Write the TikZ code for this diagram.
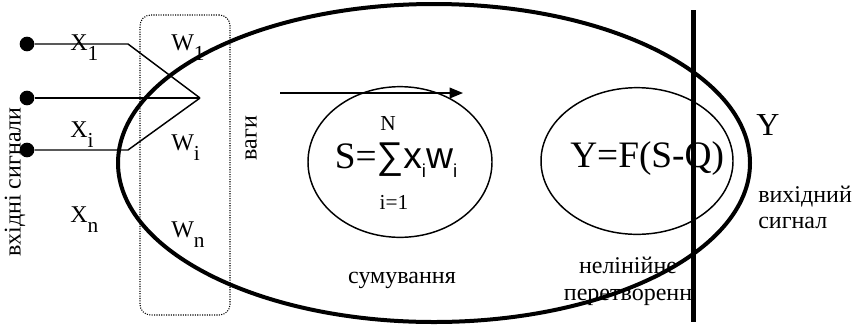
\documentclass[tikz,border=0pt]{standalone}
\usepackage{fontspec}
\setmainfont{Liberation Serif}
\newfontfamily\sansfnt{Liberation Sans}
\usetikzlibrary{shapes.geometric, arrows.meta, positioning}

% lowered index, as in the picture
\newcommand{\lowsub}[1]{\raisebox{-7.5pt}{\fontsize{16}{18}\selectfont #1}}

\begin{document}
\begin{tikzpicture}[x=0.75pt, y=-0.75pt,
        % Style definitions
        thinline/.style={
            line width=1.1pt
        },
        terminal/.style={
            circle,
            fill=black,
            inner sep=0pt,
            minimum size=11pt
        },
        sig/.style={
            font=\fontsize{18}{20}\selectfont,
            inner sep=0pt,
            anchor=base west
        },
        caption/.style={
            font=\fontsize{18}{19}\selectfont,
            inner sep=0pt,
            align=center
        },
        limit/.style={
            font=\fontsize{16}{18}\selectfont,
            inner sep=0pt
        },
        formula/.style={
            font=\fontsize{28}{30}\selectfont,
            inner sep=0pt,
            anchor=base
        },
        block/.style={
            ellipse,
            draw=black,
            line width=1.1pt,
            inner sep=0pt
        },
        arrow/.style={
            -{Triangle[length=10pt, width=8pt]},
            line width=1.1pt
        }
    ]
        \useasboundingbox (0,0) rectangle (856,326);

        % ==========================================
        % Body of the neuron / Blocks
        % ==========================================
        % Dotted frame around the weights
        \node (weights) [draw, densely dotted, line width=0.8pt, rounded corners=8pt,
            minimum width=67.5pt, minimum height=225pt] at (185,165) {};

        % Big ellipse (the neuron)
        \node (neuron) [ellipse, draw, line width=3pt, inner sep=0pt,
            minimum width=474pt, minimum height=238.5pt] at (434,163) {};

        % Summing and nonlinear blocks
        \node (summer) [block, minimum width=138pt, minimum height=113pt] at (400,162) {};
        \node (nonlin) [block, minimum width=144pt, minimum height=110pt] at (637,161) {};

        % Output line (axon)
        \coordinate (axtop) at (693,10);
        \coordinate (axbot) at (693,322);
        \draw [line width=3.75pt] (axtop) -- (axbot);

        % ==========================================
        % Inputs
        % ==========================================
        \node (in1) [terminal] at (27,44) {};
        \node (in2) [terminal] at (27,98) {};
        \node (in3) [terminal] at (27,150) {};
        \coordinate (bend1) at (128,44);
        \coordinate (bend3) at (128,150);
        \coordinate (join) at (200,98);

        \draw [thinline] (in1) -- (bend1) -- (join);
        \draw [thinline] (in2) -- (join);
        \draw [thinline] (in3) -- (bend3) -- (join);

        % Arrow inside the body
        \coordinate (flowstart) at (280,93);
        \coordinate (flowend) at (463,93);
        \draw [arrow] (flowstart) -- (flowend);

        % ==========================================
        % Labels
        % ==========================================
        \node (x1) [sig] at (70,50) {X\lowsub{1}};
        \node (xi) [sig] at (70,137) {X\lowsub{i}};
        \node (xn) [sig] at (70,222) {X\lowsub{n}};
        \node (w1) [sig] at (171,50) {W\lowsub{1}};
        \node (wi) [sig] at (171,150) {W\lowsub{i}};
        \node (wn) [sig] at (171,237) {W\lowsub{n}};

        \node (inlabel) [caption, rotate=90] at (15,182) {вхідні сигнали};
        \node (wlabel) [caption, rotate=90] at (251,138) {ваги};

        % Formulas
        \node (sumexpr) [formula] at (396,168)
            {S=\sansfnt ∑x\raisebox{-7pt}{\fontsize{14}{16}\selectfont i}w\raisebox{-7pt}{\fontsize{14}{16}\selectfont i}};
        \node (upper) [limit] at (388,124) {N};
        \node (lower) [limit] at (394,202) {i=1};
        \node (actexpr) [formula, anchor=base west] at (570,167) {Y=F(S-Q)};

        \node (ylabel) [font=\fontsize{24}{26}\selectfont, inner sep=0pt, anchor=base west] at (756,135) {Y};
        \node (outlabel) [caption, align=left, anchor=base west] at (758,228) {вихідний\\сигнал};

        \node (sumlabel) [caption, anchor=base] at (402,283) {сумування};
        \node (nllabel) [caption, anchor=base] at (628,300) {нелінійне\\[1pt]перетворенн};

    \end{tikzpicture}
\end{document}
